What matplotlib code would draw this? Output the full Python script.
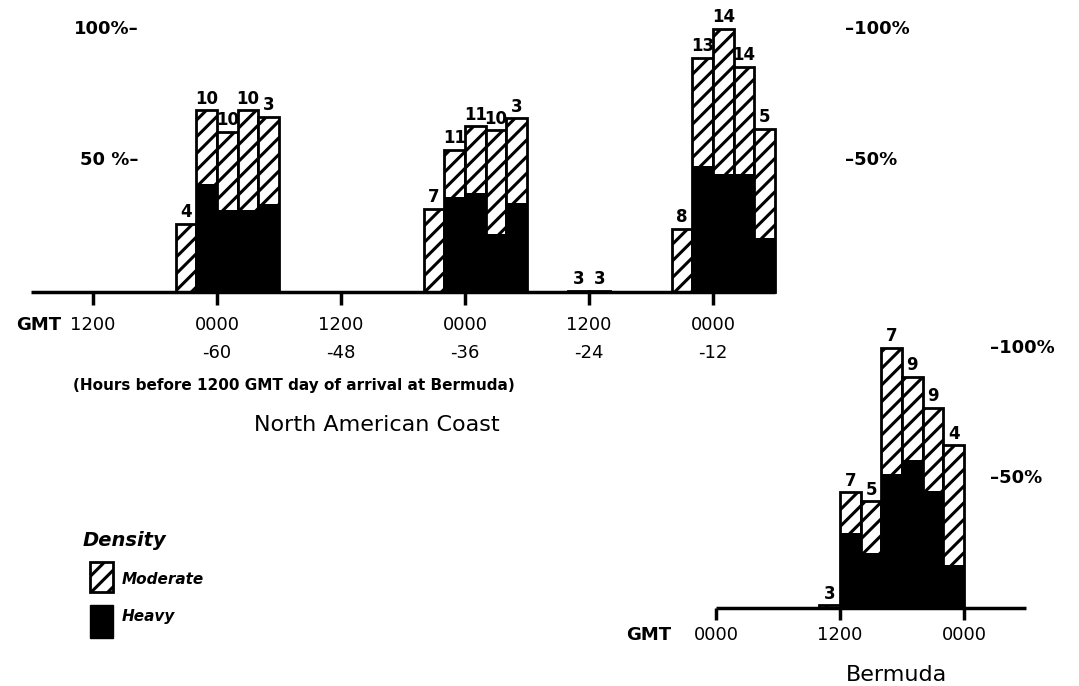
import matplotlib
matplotlib.use("Agg")
import matplotlib.pyplot as plt
from matplotlib.patches import Rectangle

plt.rcParams['font.family'] = ['DejaVu Sans']
plt.rcParams['hatch.linewidth'] = 2.2

#-----------------------------data------------------------------------------------
# North American Coast: left edge of each 2-hour bin (hours before 1200 GMT day of arrival)
coast_hours = [-64, -62, -60, -58, -56, -40, -38, -36, -34, -32, -26, -24, -16, -14, -12, -10, -8]
coast_total = [26, 69, 61, 69, 66.5, 31.5, 54, 63, 61.5, 66, 0.5, 0.5, 24, 89, 100, 85.5, 62]
coast_heavy = [0, 41, 31, 31, 33.5, 0, 36, 37.5, 22, 34, 0, 0, 0, 48, 45, 45, 20.5]
coast_n = [4, 10, 10, 10, 3, 7, 11, 11, 10, 3, 3, 3, 8, 13, 14, 14, 5]

coast_ticks = [-72, -60, -48, -36, -24, -12]
coast_gmt = ["1200", "0000", "1200", "0000", "1200", "0000"]
coast_rel = ["", "-60", "-48", "-36", "-24", "-12"]

# Bermuda: left edge of each 2-hour bin (hour GMT)
berm_hours = [10, 12, 14, 16, 18, 20, 22]
berm_total = [1, 44.5, 41, 100, 89, 77, 62.5]
berm_heavy = [0, 29, 21, 51.5, 57, 45, 16.5]
berm_n = [3, 7, 5, 7, 9, 9, 4]

berm_ticks = [0, 12, 24]
berm_gmt = ["0000", "1200", "0000"]

#-----------------------------functions--------------------------------------------

def draw_bars(ax, hours, total, heavy, counts):
    ax.bar(hours, total, width=2, align='edge', facecolor='white',
           edgecolor='black', hatch='//', linewidth=2)
    ax.bar(hours, heavy, width=2, align='edge', color='black', linewidth=0)
    for h, t, n in zip(hours, total, counts):
        ax.text(h + 1, t + 1, str(n), ha='center', va='bottom',
                fontsize=12, fontweight='bold')

#-----------------------------main------------------------------------------------
W, H = 1079, 686
fig = plt.figure(figsize=(W / 100, H / 100), dpi=100)

# top panel
ax1 = fig.add_axes([0, 0, 1, 1])
ax1.set_xlim(-81.0, 23.42)
ax1.set_ylim(-149.8, 111.0)
ax1.axis('off')
ax1.patch.set_alpha(0)

draw_bars(ax1, coast_hours, coast_total, coast_heavy, coast_n)
ax1.hlines(0, -78, -6, color='black', lw=2.5)
ax1.vlines(coast_ticks, -4.9, 0, color='black', lw=2.5)
for t, g, r in zip(coast_ticks, coast_gmt, coast_rel):
    ax1.text(t, -12.5, g, ha='center', va='center', fontsize=13)
    if r:
        ax1.text(t, -23.2, r, ha='center', va='center', fontsize=13)
ax1.text(-79.4, -12.5, "GMT", ha='left', va='center', fontsize=13, fontweight='bold')
ax1.text(-52.6, -35.4, "(Hours before 1200 GMT day of arrival at Bermuda)",
         ha='center', va='center', fontsize=11, fontweight='bold')
ax1.text(-44.5, -50.6, "North American Coast", ha='center', va='center', fontsize=16)
for p, lab in [(100, "100%\u2013"), (50, "50 %\u2013")]:
    ax1.text(-67.6, p, lab, ha='right', va='center', fontsize=13, fontweight='bold')
for p, lab in [(100, "\u2013100%"), (50, "\u201350%")]:
    ax1.text(0.8, p, lab, ha='left', va='center', fontsize=13, fontweight='bold')

# Bermuda panel
ax2 = fig.add_axes([0, 0, 1, 1])
ax2.set_xlim(-69.3, 35.13)
ax2.set_ylim(-30.0, 233.8)
ax2.axis('off')
ax2.patch.set_alpha(0)

draw_bars(ax2, berm_hours, berm_total, berm_heavy, berm_n)
ax2.hlines(0, 0, 30, color='black', lw=2.5)
ax2.vlines(berm_ticks, -4.6, 0, color='black', lw=2.5)
for t, g in zip(berm_ticks, berm_gmt):
    ax2.text(t, -10.4, g, ha='center', va='center', fontsize=13)
ax2.text(-4.3, -10.4, "GMT", ha='right', va='center', fontsize=13, fontweight='bold')
ax2.text(17.5, -25.8, "Bermuda", ha='center', va='center', fontsize=16)
for p, lab in [(100, "\u2013100%"), (50, "\u201350%")]:
    ax2.text(26.5, p, lab, ha='left', va='center', fontsize=13, fontweight='bold')

# legend
fig.text(83 / W, 1 - 540 / H, "Density", ha='left', va='center',
         fontsize=14, fontweight='bold', style='italic')
fig.add_artist(Rectangle((90 / W, 1 - 592 / H), 23 / W, 30 / H, transform=fig.transFigure,
                         facecolor='white', edgecolor='black', hatch='//', linewidth=2))
fig.add_artist(Rectangle((90 / W, 1 - 638 / H), 23 / W, 33 / H, transform=fig.transFigure,
                         facecolor='black', edgecolor='black', linewidth=1))
fig.text(122 / W, 1 - 580 / H, "Moderate", ha='left', va='center',
         fontsize=11, fontweight='bold', style='italic')
fig.text(122 / W, 1 - 617 / H, "Heavy", ha='left', va='center',
         fontsize=11, fontweight='bold', style='italic')

fig.savefig("out.png", dpi=100)
